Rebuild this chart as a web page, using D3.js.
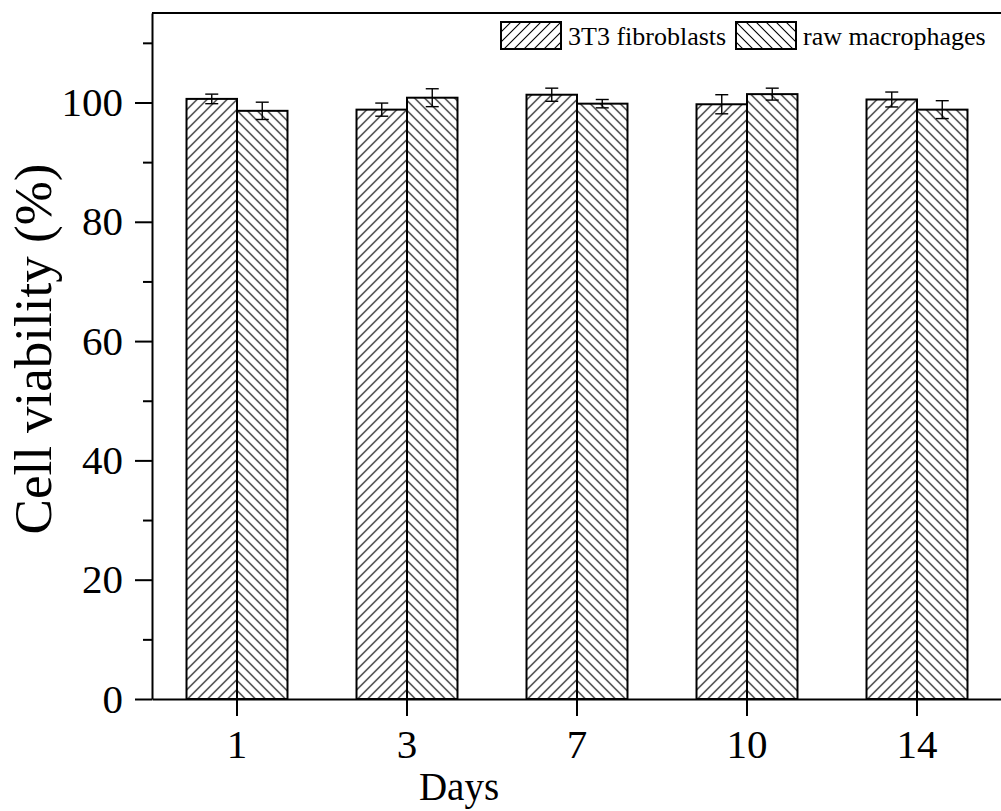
<!DOCTYPE html>
<html>
<head>
<meta charset="utf-8">
<script src="https://cdn.jsdelivr.net/npm/d3@7"></script>
<style>
  body { margin: 0; background: #fff; }
  text { font-family: "Liberation Serif", "Times New Roman", serif; fill: #000; }
</style>
</head>
<body>
<div id="chart"></div>
<script>
// Data
var days = ["1", "3", "7", "10", "14"];
var series = ["3T3 fibroblasts", "raw macrophages"];
var fibroblasts = [100.6, 98.8, 101.3, 99.7, 100.5];
var fibroblastsErr = [0.8, 1.1, 1.1, 1.6, 1.25];
var macrophages = [98.6, 100.8, 99.8, 101.4, 98.8];
var macrophagesErr = [1.45, 1.5, 0.7, 1.0, 1.5];
var yMajorTicks = [0, 20, 40, 60, 80, 100];
var yMinorTicks = [10, 30, 50, 70, 90, 110];

var serif = '"Liberation Serif", "Times New Roman", serif';
var width = 1001, height = 811;
var margin = {top: 13, left: 152, bottom: 112};
var plotRight = 1002;

var svg = d3.select('#chart').append('svg')
    .attr('width', width)
    .attr('height', height);

// hatch patterns
var defs = svg.append('defs');
function hatch(id, forward) {
    var s = 10;
    var p = defs.append('pattern')
        .attr('id', id)
        .attr('patternUnits', 'userSpaceOnUse')
        .attr('width', s)
        .attr('height', s);
    p.append('rect').attr('width', s).attr('height', s).attr('fill', '#fff');
    var d = forward
        ? "M-1,1 L1,-1 M0," + s + " L" + s + ",0 M" + (s - 1) + "," + (s + 1) + " L" + (s + 1) + "," + (s - 1)
        : "M-1," + (s - 1) + " L1," + (s + 1) + " M0,0 L" + s + "," + s + " M" + (s - 1) + ",-1 L" + (s + 1) + ",1";
    p.append('path').attr('d', d).attr('stroke', '#000').attr('stroke-width', 1.1);
}
hatch('hatchF', true);
hatch('hatchB', false);
var fills = ['url(#hatchF)', 'url(#hatchB)'];

var _x = d3.scaleBand()
    .domain(days)
    .range([margin.left, plotRight])
    .paddingInner(0.406)
    .paddingOuter(0.203);

var _x1 = d3.scaleBand()
    .domain(series)
    .range([0, _x.bandwidth()]);

var _y = d3.scaleLinear()
    .domain([0, 115])
    .range([height - margin.bottom, margin.top]);

var rows = days.map(function(d, i) {
    return {day: d, vals: [
        {s: series[0], v: fibroblasts[i], e: fibroblastsErr[i]},
        {s: series[1], v: macrophages[i], e: macrophagesErr[i]}
    ]};
});

// Bars
var groups = svg.selectAll('.grp')
    .data(rows)
    .enter().append('g')
    .attr('class', 'grp')
    .attr('transform', function(d) { return 'translate(' + _x(d.day) + ',0)'; });

groups.selectAll('rect')
    .data(function(d) { return d.vals; })
    .enter().append('rect')
    .attr('x', function(d) { return _x1(d.s); })
    .attr('y', function(d) { return _y(d.v); })
    .attr('width', _x1.bandwidth())
    .attr('height', function(d) { return _y(0) - _y(d.v); })
    .attr('fill', function(d, i) { return fills[i]; })
    .attr('stroke', '#000')
    .attr('stroke-width', 2);

// Error bars
var eb = groups.selectAll('.err')
    .data(function(d) { return d.vals; })
    .enter().append('g')
    .attr('class', 'err')
    .attr('stroke', '#000')
    .attr('stroke-width', 1.4);

eb.append('line')
    .attr('x1', function(d) { return _x1(d.s) + _x1.bandwidth() / 2; })
    .attr('x2', function(d) { return _x1(d.s) + _x1.bandwidth() / 2; })
    .attr('y1', function(d) { return _y(d.v + d.e); })
    .attr('y2', function(d) { return _y(d.v - d.e); });

[1, -1].forEach(function(sign) {
    eb.append('line')
        .attr('x1', function(d) { return _x1(d.s) + _x1.bandwidth() / 2 - 6.5; })
        .attr('x2', function(d) { return _x1(d.s) + _x1.bandwidth() / 2 + 6.5; })
        .attr('y1', function(d) { return _y(d.v + sign * d.e); })
        .attr('y2', function(d) { return _y(d.v + sign * d.e); });
});

// Axes
var yAxis = d3.axisLeft(_y)
    .tickValues(yMajorTicks)
    .tickSize(17)
    .tickSizeOuter(0)
    .tickPadding(12)
    .tickFormat(d3.format('d'));

var gy = svg.append('g')
    .attr('transform', 'translate(' + margin.left + ',0)')
    .call(yAxis);

svg.append('g')
    .attr('transform', 'translate(' + margin.left + ',0)')
    .call(d3.axisLeft(_y).tickValues(yMinorTicks).tickSize(9).tickSizeOuter(0).tickFormat(''))
    .select('.domain').remove();

var xAxis = d3.axisBottom(_x)
    .tickSize(17)
    .tickSizeOuter(0)
    .tickPadding(13);

var gx = svg.append('g')
    .attr('transform', 'translate(0,' + _y(0) + ')')
    .call(xAxis);

svg.selectAll('.domain, .tick line')
    .attr('stroke', '#000')
    .attr('stroke-width', 2);
svg.selectAll('.tick text')
    .attr('font-family', serif)
    .style('font-size', '41px');

// Top frame line
svg.append('line')
    .attr('x1', margin.left).attr('x2', plotRight)
    .attr('y1', _y(115)).attr('y2', _y(115))
    .attr('stroke', '#000').attr('stroke-width', 2);

// Axis titles
svg.append('text')
    .attr('x', 459)
    .attr('y', 800)
    .attr('text-anchor', 'middle')
    .attr('font-family', serif)
    .style('font-size', '39px')
    .text('Days');

svg.append('text')
    .attr('transform', 'translate(51,349) rotate(-90)')
    .attr('text-anchor', 'middle')
    .attr('font-family', serif)
    .style('font-size', '53px')
    .text('Cell viability (%)');

// Legend
var legX = [501, 736];
var legend = svg.selectAll('.leg')
    .data(series)
    .enter().append('g')
    .attr('class', 'leg')
    .attr('transform', function(d, i) { return 'translate(' + legX[i] + ',22)'; });

legend.append('rect')
    .attr('width', 60)
    .attr('height', 27)
    .attr('fill', function(d, i) { return fills[i]; })
    .attr('stroke', '#000')
    .attr('stroke-width', 2);

legend.append('text')
    .attr('x', 67)
    .attr('y', 23)
    .attr('font-family', serif)
    .style('font-size', '26px')
    .text(function(d) { return d; });
</script>
</body>
</html>
